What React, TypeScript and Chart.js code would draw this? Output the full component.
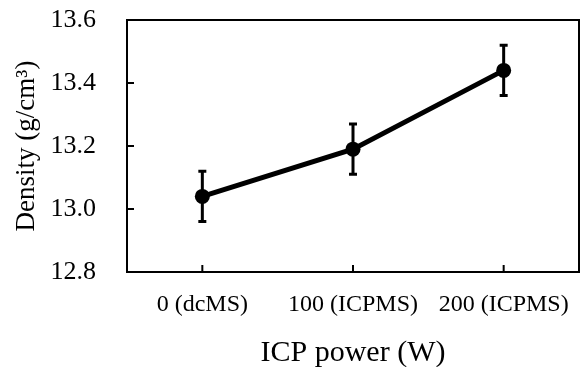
import React, { useEffect, useRef } from "react";
import { Chart, registerables } from "chart.js";

Chart.register(...registerables);

const categories = ["0 (dcMS)", "100 (ICPMS)", "200 (ICPMS)"];
const density = [13.04, 13.19, 13.44];
const densityError = [0.08, 0.08, 0.08];
const yTicks = [12.8, 13.0, 13.2, 13.4, 13.6];
const xTitle = "ICP power (W)";
const yTitle = "Density (g/cm\u00B3)";

const FONT = "'Liberation Serif', 'Times New Roman', serif";

const framePlugin = {
  id: "frameAndErrors",
  beforeDatasetsDraw(chart: any) {
    const ctx = chart.ctx;
    const xs = chart.scales.x;
    const ys = chart.scales.y;
    ctx.save();
    ctx.strokeStyle = "#000";
    ctx.lineWidth = 3;
    const cap = 4;
    density.forEach((v, i) => {
      const x = xs.getPixelForValue(i);
      const yTop = ys.getPixelForValue(v + densityError[i]);
      const yBot = ys.getPixelForValue(v - densityError[i]);
      ctx.beginPath();
      ctx.moveTo(x, yTop);
      ctx.lineTo(x, yBot);
      ctx.moveTo(x - cap, yTop);
      ctx.lineTo(x + cap, yTop);
      ctx.moveTo(x - cap, yBot);
      ctx.lineTo(x + cap, yBot);
      ctx.stroke();
    });
    ctx.restore();
  },
  afterDraw(chart: any) {
    const ctx = chart.ctx;
    const { left, right, top, bottom } = chart.chartArea;
    const xs = chart.scales.x;
    const ys = chart.scales.y;
    ctx.save();
    ctx.strokeStyle = "#000";
    ctx.lineWidth = 2;
    ctx.strokeRect(left, top, right - left, bottom - top);
    ctx.beginPath();
    const tl = 7;
    yTicks.forEach((t) => {
      const y = ys.getPixelForValue(t);
      ctx.moveTo(left, y);
      ctx.lineTo(left + tl, y);
    });
    categories.forEach((_, i) => {
      const x = xs.getPixelForValue(i);
      ctx.moveTo(x, bottom);
      ctx.lineTo(x, bottom - tl);
    });
    ctx.stroke();
    ctx.restore();
  },
};

export default function App() {
  const ref = useRef<HTMLCanvasElement | null>(null);
  useEffect(() => {
    if (!ref.current) return;
    const chart = new Chart(ref.current, {
      type: "line",
      data: {
        labels: categories,
        datasets: [
          {
            data: density,
            borderColor: "#000",
            backgroundColor: "#000",
            borderWidth: 5,
            pointRadius: 7.5,
            pointHoverRadius: 7.5,
            pointBackgroundColor: "#000",
            pointBorderColor: "#000",
            pointBorderWidth: 0,
            tension: 0,
            clip: false,
          },
        ],
      },
      options: {
        animation: false,
        responsive: false,
        maintainAspectRatio: false,
        layout: { autoPadding: false, padding: { left: 0, right: 4, top: 20, bottom: 0 } },
        plugins: { legend: { display: false }, tooltip: { enabled: false } },
        scales: {
          x: {
            type: "category",
            offset: true,
            grid: { display: false },
            border: { display: false },
            ticks: {
              color: "#000",
              padding: 10,
              maxRotation: 0,
              autoSkip: false,
              font: { family: FONT, size: 24 },
            },
            title: {
              display: true,
              text: xTitle,
              color: "#000",
              font: { family: FONT, size: 30 },
              padding: { top: 0, bottom: -4 },
            },
            afterFit(scale: any) {
              scale.height = 95;
              scale.paddingLeft = 0;
              scale.paddingRight = 0;
            },
          },
          y: {
            min: 12.8,
            max: 13.6,
            grid: { display: false },
            border: { display: false },
            afterBuildTicks(scale: any) {
              scale.ticks = yTicks.map((v) => ({ value: v }));
            },
            ticks: {
              color: "#000",
              padding: 23,
              font: { family: FONT, size: 26 },
              callback: (v: any) => Number(v).toFixed(1),
            },
            title: {
              display: true,
              text: yTitle,
              color: "#000",
              font: { family: FONT, size: 27 },
              padding: { top: 11, bottom: 0 },
            },
            afterFit(scale: any) {
              scale.width = 127;
              scale.paddingTop = 0;
              scale.paddingBottom = 0;
            },
          },
        },
      },
      plugins: [framePlugin],
    });
    return () => chart.destroy();
  }, []);
  return (
    <div style={{ position: "absolute", left: 0, top: 0, width: 583, height: 367, background: "#fff" }}>
      <canvas ref={ref} width={583} height={367} style={{ width: 583, height: 367 }} />
    </div>
  );
}
